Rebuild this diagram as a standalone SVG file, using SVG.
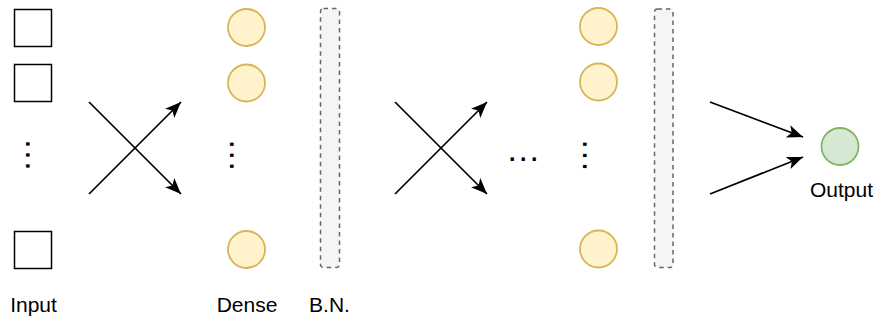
<svg xmlns="http://www.w3.org/2000/svg" width="878" height="320" viewBox="0 0 878 320">
<style>
.inp{fill:#ffffff;stroke:#000000;stroke-width:1.5}
.dense{fill:#fff2cc;stroke:#d6b656;stroke-width:1.8}
.out{fill:#d5e8d4;stroke:#82b366;stroke-width:1.8}
.bn{fill:#f5f5f5;stroke:#666666;stroke-width:1.5;stroke-dasharray:4.5 4}
.lbl{font-family:"Liberation Sans",Arial,sans-serif;font-size:21px;fill:#000000;text-anchor:middle}
.dots{font-family:"Liberation Sans",Arial,sans-serif;font-size:34px;letter-spacing:1.6px;fill:#000000}
.edge{stroke:#000000;stroke-width:1.7;fill:none;marker-end:url(#arr)}
</style>
<defs>
<marker id="arr" markerUnits="userSpaceOnUse" viewBox="-16 -8 17 16" refX="0" refY="0" markerWidth="17" markerHeight="16" orient="auto">
<path d="M0,0 L-16,-6.5 L-12,0 L-16,6.5 Z" fill="#000000"/>
</marker>
</defs>
<g id="input-layer">
<rect class="inp" x="14.5" y="9.5" width="37" height="37"/>
<rect class="inp" x="14.5" y="64.5" width="37" height="37"/>
<text class="dots" transform="translate(25.6,139.2) rotate(90)" x="0" y="0">...</text>
<rect class="inp" x="14.5" y="231.5" width="37" height="37"/>
<text class="lbl" x="33.5" y="312">Input</text>
</g>
<g id="dense-1">
<circle class="dense" cx="246.5" cy="27.5" r="18.5"/>
<circle class="dense" cx="246.5" cy="83" r="18.5"/>
<text class="dots" transform="translate(229.5,139.4) rotate(90)" x="0" y="0">...</text>
<circle class="dense" cx="246.5" cy="249.5" r="18.5"/>
<text class="lbl" x="247" y="312">Dense</text>
</g>
<g id="bn-1">
<rect class="bn" x="320.5" y="8.5" width="19" height="259" rx="3"/>
<text class="lbl" x="329.5" y="312">B.N.</text>
</g>
<g id="ellipsis">
<text class="dots" x="507.5" y="161.4">...</text>
</g>
<g id="dense-2">
<circle class="dense" cx="598.5" cy="26.5" r="18.5"/>
<circle class="dense" cx="598.5" cy="82" r="18.5"/>
<text class="dots" transform="translate(583,139.6) rotate(90)" x="0" y="0">...</text>
<circle class="dense" cx="598.5" cy="249" r="18.5"/>
</g>
<g id="bn-2">
<rect class="bn" x="654.5" y="9" width="18.5" height="258.5" rx="3"/>
</g>
<g id="output">
<circle class="out" cx="840" cy="146.5" r="18.5"/>
<text class="lbl" x="841.5" y="197">Output</text>
</g>
<g id="connectors">
<line class="edge" x1="89" y1="102" x2="181" y2="194"/>
<line class="edge" x1="89" y1="194" x2="181" y2="102"/>
<line class="edge" x1="395" y1="102" x2="487" y2="194"/>
<line class="edge" x1="395" y1="194" x2="487" y2="102"/>
<line class="edge" x1="710" y1="102" x2="803" y2="137"/>
<line class="edge" x1="710" y1="194" x2="803" y2="157"/>
</g>
</svg>
